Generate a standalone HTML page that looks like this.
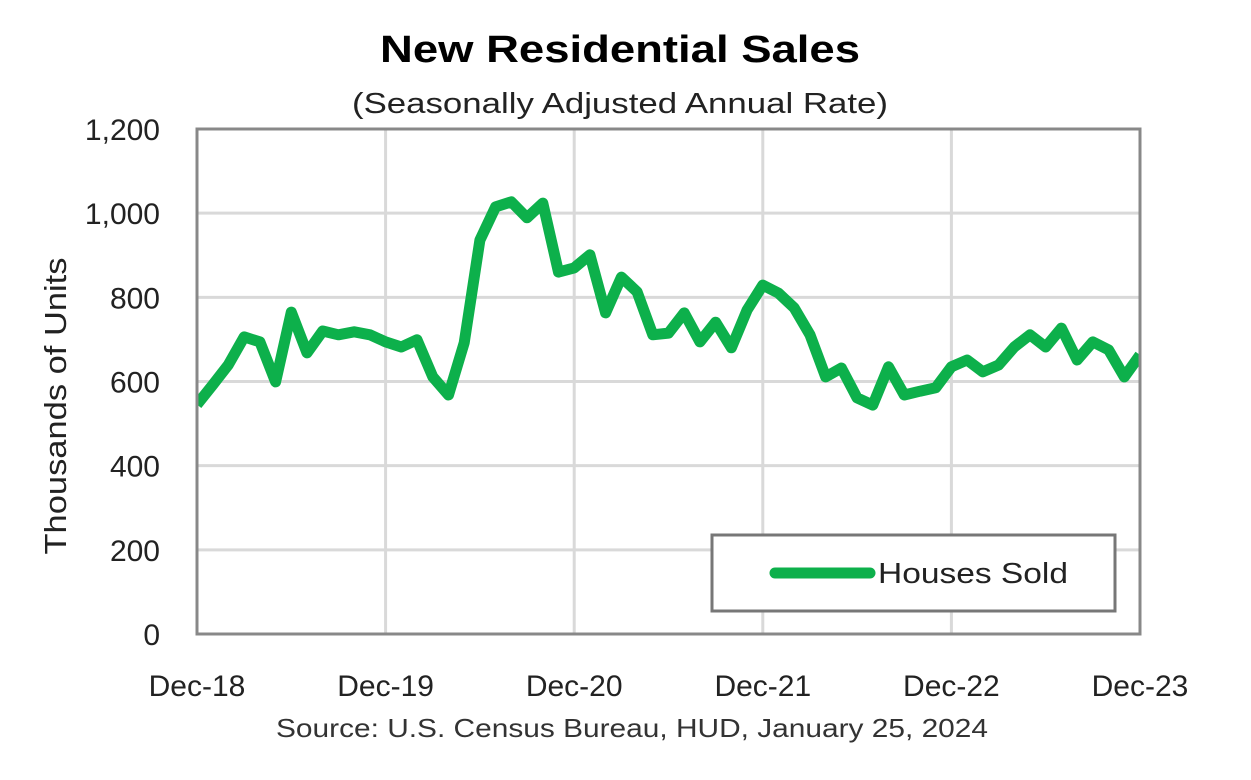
<!DOCTYPE html>
<html><head><meta charset="utf-8"><style>
body{margin:0;background:#fff;}
svg{display:block;font-family:"Liberation Sans",sans-serif;}
</style></head><body>
<svg id="chart" width="1251" height="780" viewBox="0 0 1251 780">
<defs><clipPath id="plotclip"><rect x="197" y="129" width="943" height="505"/></clipPath></defs>
<rect width="1251" height="780" fill="#fff"/>
<text x="620" y="62" text-anchor="middle" font-size="38" font-weight="bold" fill="#000" textLength="480" lengthAdjust="spacingAndGlyphs">New Residential Sales</text>
<text x="620" y="113" text-anchor="middle" font-size="29" fill="#222" textLength="536" lengthAdjust="spacingAndGlyphs">(Seasonally Adjusted Annual Rate)</text>
<g id="grid"></g>
<g id="yticks"></g>
<g id="xticks"></g>
<text transform="translate(66,406) rotate(-90)" text-anchor="middle" font-size="31" fill="#222" textLength="297" lengthAdjust="spacingAndGlyphs">Thousands of Units</text>
<path id="line" fill="none" stroke="#0db04b" stroke-width="11" stroke-linejoin="round" clip-path="url(#plotclip)"/>
<rect x="197" y="129" width="943" height="505" fill="none" stroke="#888" stroke-width="3"/>
<g>
<rect x="712" y="535" width="403" height="76" fill="#fff" stroke="#777" stroke-width="3"/>
<line x1="775" y1="573" x2="870" y2="573" stroke="#0db04b" stroke-width="11" stroke-linecap="round"/>
<text x="878" y="583" font-size="29" fill="#222" textLength="190" lengthAdjust="spacingAndGlyphs">Houses Sold</text>
</g>
<text x="632" y="737" text-anchor="middle" font-size="26" fill="#333" textLength="712" lengthAdjust="spacingAndGlyphs">Source:  U.S. Census Bureau, HUD, January 25, 2024</text>
</svg>
<script>
const values = [545,592,640,706,694,599,765,668,720,711,718,711,694,
682,699,611,568,692,936,1015,1027,989,1024,860,870,
901,763,848,813,711,715,763,694,741,680,770,829,
810,775,711,611,632,561,544,635,568,577,585,635,
651,623,639,682,711,682,727,651,694,675,611,663];
const yTicks = [0,200,400,600,800,1000,1200];
const yTickLabels = ["0","200","400","600","800","1,000","1,200"];
const xTickIdx = [0,12,24,36,48,60];
const xTickLabels = ["Dec-18","Dec-19","Dec-20","Dec-21","Dec-22","Dec-23"];
const X0=197,X1=1140,Y0=634,Y1=129,NS="http://www.w3.org/2000/svg";
function xs(i){return X0+(X1-X0)*i/(values.length-1);}
function ys(v){return Y0-(Y0-Y1)*v/1200;}
const grid=document.getElementById('grid'),yt=document.getElementById('yticks'),xt=document.getElementById('xticks');
yTicks.forEach((v,k)=>{
  if(v>0&&v<1200){const l=document.createElementNS(NS,'line');
  
  
  l.setAttribute('x1',X0);l.setAttribute('x2',X1);l.setAttribute('y1',ys(v));l.setAttribute('y2',ys(v));
  l.setAttribute('stroke','#d9d9d9');l.setAttribute('stroke-width','3');grid.appendChild(l);}
  const t=document.createElementNS(NS,'text');
  
  
  t.setAttribute('x',160);t.setAttribute('y',ys(v)+11);t.setAttribute('text-anchor','end');
  t.setAttribute('font-size','30');t.setAttribute('fill','#222');t.textContent=yTickLabels[k];yt.appendChild(t);
});
xTickIdx.forEach((i,k)=>{
  if(i>0&&i<values.length-1){const l=document.createElementNS(NS,'line');
  
  
  l.setAttribute('x1',xs(i));l.setAttribute('x2',xs(i));l.setAttribute('y1',Y1);l.setAttribute('y2',Y0);
  l.setAttribute('stroke','#d9d9d9');l.setAttribute('stroke-width','3');grid.appendChild(l);}
  const t=document.createElementNS(NS,'text');
  
  
  t.setAttribute('x',xs(i));t.setAttribute('y',696);t.setAttribute('text-anchor','middle');
  t.setAttribute('font-size','30');t.setAttribute('fill','#222');t.textContent=xTickLabels[k];xt.appendChild(t);
});
document.getElementById('line').setAttribute('d',values.map((v,i)=>(i?'L':'M')+xs(i).toFixed(1)+','+ys(v).toFixed(1)).join(''));
</script>
</body></html>
